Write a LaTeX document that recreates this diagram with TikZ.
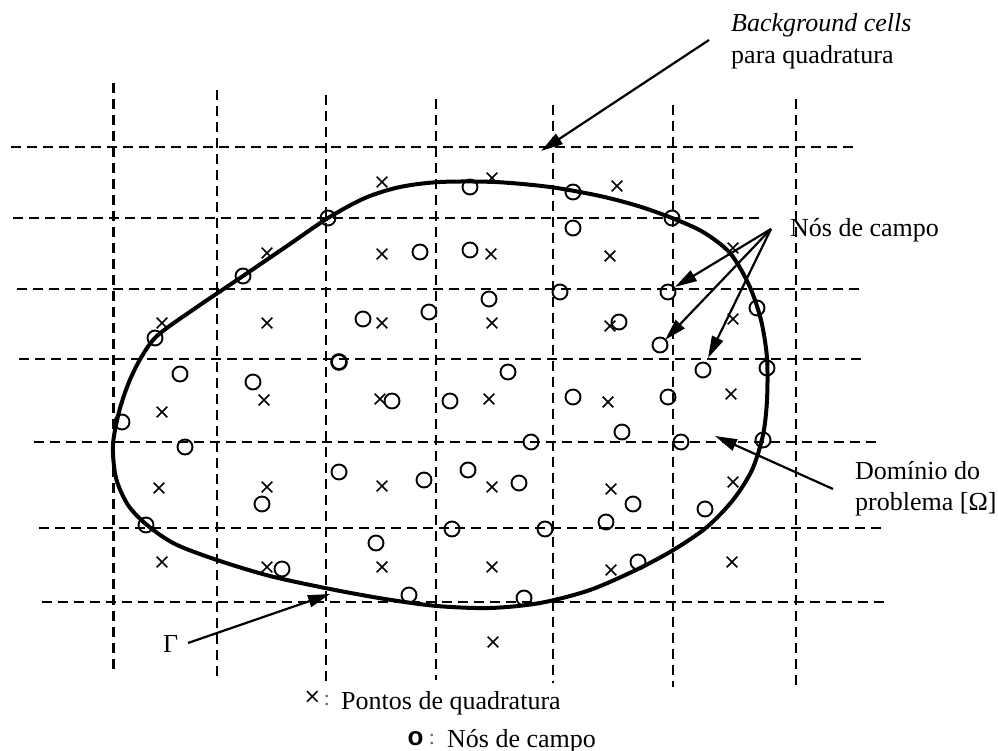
\documentclass[tikz,border=0pt]{standalone}
\usepackage{fontspec}
\setmainfont{Liberation Serif}
\newfontfamily\symfont{DejaVu Sans}
\newfontfamily\arialfont{Liberation Sans}
\usetikzlibrary{arrows.meta,shapes.misc}
\begin{document}
\begin{tikzpicture}[x=1pt,y=-1pt,
  gridline/.style={line width=2.2pt, dash pattern=on 10pt off 6pt},
  bnd/.style={line width=4pt, line join=round},
  fn/.style={circle, draw, line width=1.9pt, minimum size=15pt, inner sep=0pt},
  qp/.style={cross out, draw, line width=1.7pt, minimum size=9pt, inner sep=0pt},
  arr/.style={line width=2.2pt, -{Triangle[length=22pt,width=12pt]}},
  lbl/.style={inner sep=0pt, font=\fontsize{26}{31}\selectfont}]
\useasboundingbox (0,0) rectangle (998,751);
% background cells
\foreach \y/\xa/\xb in {147/11/857, 218/13/760, 289/17/862, 359/19/864, 442/34/880, 528/39/884, 602/42/887}
  \draw[gridline] (\xa,\y) -- (\xb,\y);
\foreach \x/\ya/\yb in {113.5/83/672, 217/90/679, 326/95/685, 436/99/680, 553/105/683, 673/105/687, 796/99/688}
  \draw[gridline] (\x,\ya) -- (\x,\yb);
% boundary Gamma
\draw[bnd] plot[smooth cycle, tension=0.5] coordinates {
  (113,445) (119,412) (129,382) (142,356) (158,335) (197,307) (243,276)
  (287,246) (328,218) (365,198) (400,187) (440,182) (495,182) (550,187)
  (600,196) (638,206) (672,218) (703,232) (730,253) (749,285) (761,320)
  (767,358) (767,400) (763,435) (752,470) (733,500) (707,527) (675,549)
  (638,569) (590,590) (540,603) (490,608) (437,606) (385,599) (330,589)
  (270,576) (217,560) (175,544) (147,525) (128,505) (116,478)};
% field nodes
\foreach \x/\y [count=\i] in {328/218, 243/276, 155/338, 122/422, 146/525, 282/569, 409/595, 524/598, 638/562, 705/509, 763/440, 767/368, 757/308, 672/218, 573/192, 470/187,
  180/374, 253/382, 185/447, 262/504, 339/472, 573/228, 420/252, 470/250, 560/292, 668/292, 489/299, 363/319, 429/312, 619/322, 660/345, 508/372, 392/401, 450/401, 573/397, 668/397, 622/432, 531/442, 424/480, 468/470, 519/483, 633/504, 606/522, 452/529, 545/529, 376/543, 703/370, 681/442}
  \node[fn] (f\i) at (\x,\y) {};
\node[fn, line width=2.6pt] (fbold) at (339,362) {};
% quadrature points
\foreach \x/\y [count=\i] in {267/253, 162/323, 267/323, 382/182, 492/178, 617/186, 382/254, 491/254, 610/256, 382/323, 492/323, 610/326, 733/248, 733/319, 264/400, 162/412, 380/399, 489/399, 608/402, 731/394, 159/488, 267/487, 382/486, 492/487, 611/489, 733/482, 162/562, 267/567, 382/567, 492/567, 611/570, 732/562, 493/642}
  \node[qp] (q\i) at (\x,\y) {};
% labels
\node[lbl, anchor=base west, font=\fontsize{26}{31}\selectfont\itshape] (bg1) at (731,32) {Background cells};
\node[lbl, anchor=base west] (bg2) at (731,64) {para quadratura};
\node[lbl, anchor=base west] (nc) at (790,237) {Nós de campo};
\node[lbl, anchor=base west] (dom1) at (855,479) {Domínio do};
\node[lbl, anchor=base west] (dom2) at (855,510) {problema [Ω]};
\node[lbl, anchor=base west] (gam) at (163,652) {Γ};
% legend
\node[inner sep=0pt, font=\fontsize{21}{21}\selectfont\symfont] (legx) at (312.5,697.5) {×};
\node[inner sep=0pt, anchor=base, text=black!60, font=\fontsize{22}{22}\selectfont] (legc1) at (327,705) {:};
\node[lbl, anchor=base west] (leg1) at (341,709) {Pontos de quadratura};
\node[inner sep=0pt, anchor=base, font=\fontsize{26}{26}\selectfont\arialfont\bfseries] (lego) at (415.5,745) {o};
\node[inner sep=0pt, anchor=base, text=black!60, font=\fontsize{22}{22}\selectfont] (legc2) at (432,744) {:};
\node[lbl, anchor=base west] (leg2) at (447,747) {Nós de campo};
% arrows
\coordinate (bgtail) at (709,40);
\coordinate (bgtip) at (541,151);
\draw[arr] (bgtail) -- (bgtip);
\coordinate (nctail) at (771,229);
\coordinate (nct1) at (675,287);
\coordinate (nct2) at (665,340);
\coordinate (nct3) at (708,358);
\draw[arr] (nctail) -- (nct1);
\draw[arr] (nctail) -- (nct2);
\draw[arr] (nctail) -- (nct3);
\coordinate (domtail) at (833,489);
\coordinate (domtip) at (715,436);
\draw[arr] (domtail) -- (domtip);
\coordinate (gtail) at (188,643);
\coordinate (gtip) at (330,594);
\draw[arr] (gtail) -- (gtip);
\end{tikzpicture}
\end{document}
